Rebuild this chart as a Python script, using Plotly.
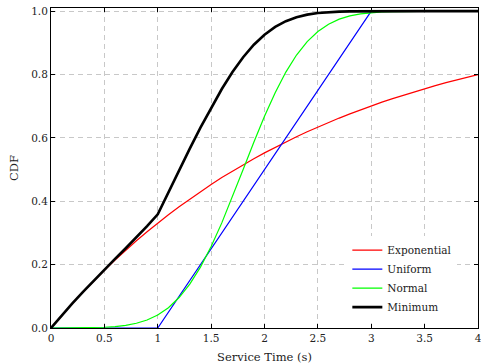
import plotly.graph_objects as go

# ---- data ----
service_time = [0.0, 0.1, 0.2, 0.3, 0.4, 0.5, 0.6, 0.7, 0.8, 0.9,
                1.0, 1.1, 1.2, 1.3, 1.4, 1.5, 1.6, 1.7, 1.8, 1.9,
                2.0, 2.1, 2.2, 2.3, 2.4, 2.5, 2.6, 2.7, 2.8, 2.9,
                3.0, 3.1, 3.2, 3.3, 3.4, 3.5, 3.6, 3.7, 3.8, 3.9, 4.0]

exponential_cdf = [0.0000, 0.0394, 0.0773, 0.1137, 0.1487, 0.1823, 0.2145, 0.2455, 0.2753, 0.3038,
                   0.3313, 0.3576, 0.3830, 0.4073, 0.4307, 0.4532, 0.4747, 0.4954, 0.5153, 0.5344,
                   0.5528, 0.5704, 0.5874, 0.6036, 0.6193, 0.6343, 0.6487, 0.6626, 0.6759, 0.6886,
                   0.7009, 0.7127, 0.7241, 0.7349, 0.7454, 0.7554, 0.7651, 0.7743, 0.7832, 0.7918, 0.8000]

uniform_time = [0.0, 1.0, 3.0, 4.0]
uniform_cdf = [0.0, 0.0, 1.0, 1.0]

normal_cdf = [0.0000, 0.0001, 0.0003, 0.0006, 0.0012, 0.0024, 0.0045, 0.0084, 0.0149, 0.0252,
              0.0410, 0.0640, 0.0961, 0.1385, 0.1922, 0.2572, 0.3318, 0.4140, 0.5000, 0.5860,
              0.6682, 0.7428, 0.8078, 0.8615, 0.9039, 0.9360, 0.9590, 0.9748, 0.9851, 0.9916,
              0.9955, 0.9976, 0.9988, 0.9994, 0.9998, 0.9999, 1.0000, 1.0000, 1.0000, 1.0000, 1.0000]

minimum_cdf = [0.0000, 0.0395, 0.0775, 0.1142, 0.1497, 0.1843, 0.2180, 0.2518, 0.2861, 0.3213,
               0.3587, 0.4288, 0.4980, 0.5660, 0.6321, 0.6954, 0.7543, 0.8078, 0.8546, 0.8940,
               0.9258, 0.9503, 0.9683, 0.9809, 0.9890, 0.9941, 0.9971, 0.9987, 0.9995, 0.9999,
               1.0000, 1.0000, 1.0000, 1.0000, 1.0000, 1.0000, 1.0000, 1.0000, 1.0000, 1.0000, 1.0000]

x_ticks = [0, 0.5, 1, 1.5, 2, 2.5, 3, 3.5, 4]
x_tick_labels = ["0", "0.5", "1", "1.5", "2", "2.5", "3", "3.5", "4"]
y_ticks = [0.0, 0.2, 0.4, 0.6, 0.8, 1.0]
y_tick_labels = ["0.0", "0.2", "0.4", "0.6", "0.8", "1.0"]

FONT = "DejaVu Serif"
TXT = "#222222"

fig = go.Figure()
fig.add_trace(go.Scatter(x=service_time, y=exponential_cdf, mode="lines", name="Exponential",
                         line=dict(color="#ff0000", width=1.2)))
fig.add_trace(go.Scatter(x=uniform_time, y=uniform_cdf, mode="lines", name="Uniform",
                         line=dict(color="#0000ff", width=1.2)))
fig.add_trace(go.Scatter(x=service_time, y=normal_cdf, mode="lines", name="Normal",
                         line=dict(color="#00ff00", width=1.2)))
fig.add_trace(go.Scatter(x=service_time, y=minimum_cdf, mode="lines", name="Minimum",
                         line=dict(color="#000000", width=2.6)))

axis_common = dict(
    showline=True, linecolor="black", linewidth=1, mirror="ticks",
    ticks="inside", ticklen=4, tickcolor="black", tickwidth=1,
    showgrid=True, gridcolor="#c8c8c8", gridwidth=1, griddash="5px,4px",
    zeroline=False, ticklabeloverflow="allow",
    tickfont=dict(family=FONT, size=10.5, color=TXT),
)

fig.update_layout(
    width=481, height=364,
    margin=dict(l=51, r=3, t=8, b=36),
    paper_bgcolor="white", plot_bgcolor="white",
    font=dict(family=FONT, color=TXT),
    showlegend=True,
    legend=dict(x=0.694, y=0.02, xanchor="left", yanchor="bottom",
                bgcolor="white", borderwidth=0,
                font=dict(family=FONT, size=10.5, color=TXT),
                tracegroupgap=0),
    xaxis=dict(range=[0, 4], tickvals=x_ticks, ticktext=x_tick_labels,
               title=dict(text="Service Time (s)", font=dict(family=FONT, size=11.5, color=TXT), standoff=12),
               **axis_common),
    yaxis=dict(range=[0, 1.01], tickvals=y_ticks, ticktext=y_tick_labels,
               title=dict(text="CDF", font=dict(family=FONT, size=11.5, color=TXT), standoff=10),
               **axis_common),
)
fig.update_xaxes(automargin=False)
fig.update_yaxes(automargin=False)

fig.write_html("out.html", config={"displayModeBar": False},
               post_script="document.body.style.margin='0';document.body.style.padding='0';document.body.style.overflow='hidden';")
